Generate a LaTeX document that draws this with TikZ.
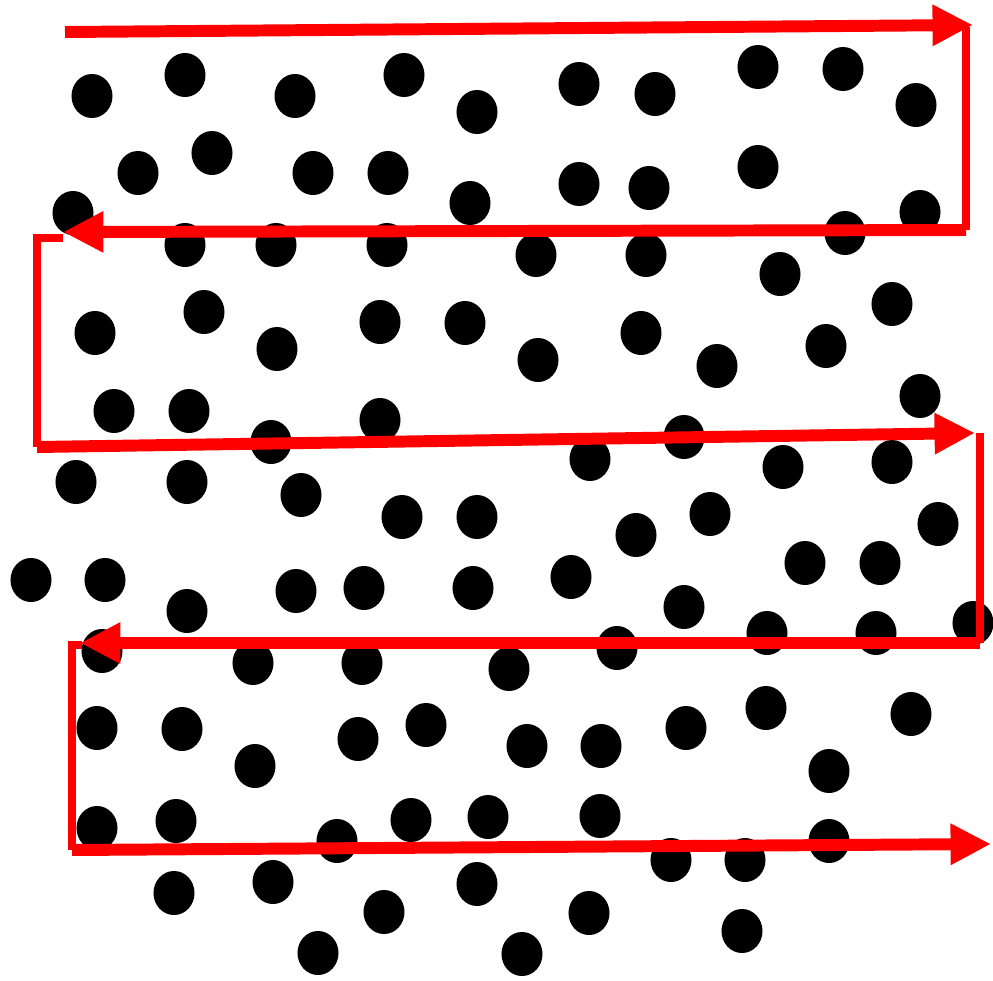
\documentclass[tikz,border=0pt]{standalone}
\usepackage{tikz}
\usetikzlibrary{arrows.meta}

\begin{document}
\begin{tikzpicture}[x=0.01cm, y=-0.01cm,
    dot/.style={fill=black},
    sweep/.style={draw=red, line width=3.4pt, line cap=butt},
    turn/.style={draw=red, line width=2.1pt, line join=miter},
    tip/.style={-{Triangle[length=11.5pt,width=11pt]}}]

  \useasboundingbox (0,0) rectangle (993,981);

  % 1. Scattered particles (pixel positions of the original sketch)
  \foreach \px/\py in {
      92/96, 185/75, 295/96, 404/75, 477/112, 579/84, 655/94, 758/67, 843/69, 916/105,
      138/173, 212/153, 313/173, 388/173, 470/203, 579/184, 649/188, 758/167, 920/212,
      73/213, 845/233, 185/245, 276/245, 387/245, 536/255, 646/255, 780/274, 892/304,
      95/333, 204/312, 277/349, 380/322, 465/323, 538/360, 641/333, 717/366, 826/346, 920/396,
      114/411, 189/411, 271/442, 380/420, 684/437, 590/459, 783/467, 892/462,
      76/482, 187/482, 301/495, 402/517, 477/517, 636/535, 710/514, 938/524,
      31/580, 105/580, 187/611, 296/591, 364/588, 473/588, 571/577, 684/607, 805/563, 880/563,
      617/648, 767/633, 876/633, 973/623, 102/651, 253/663, 362/663, 509/669,
      97/728, 182/729, 255/766, 358/739, 426/725, 527/746, 601/746, 686/728, 766/708, 911/714, 829/771,
      97/828, 176/821, 337/841, 411/820, 488/817, 600/816, 829/841, 671/860, 745/860,
      174/893, 273/882, 384/912, 477/884, 589/913, 742/931, 318/953, 522/954} {
    \fill[dot] (\px,\py) ellipse [x radius=0.205cm, y radius=0.22cm];
  }

  % 2. Corners of the scan path
  \coordinate (s1) at (65,32);   \coordinate (e1) at (973,25);
  \coordinate (r1) at (966,27);  \coordinate (s2) at (966,230);  \coordinate (e2) at (63,232);
  \coordinate (l1) at (63,238);  \coordinate (l1b) at (37,238);  \coordinate (s3) at (37,447);
  \coordinate (e3) at (975,433);
  \coordinate (r2) at (980,433); \coordinate (s4) at (980,643);  \coordinate (e4) at (80,643);
  \coordinate (l2) at (82,645);  \coordinate (l2b) at (72,645);  \coordinate (s5) at (72,850);
  \coordinate (e5) at (991,844);

  % 3. Back-and-forth sweeps
  \draw[sweep, tip] (s1) -- (e1);
  \draw[turn] (r1) -- (s2);
  \draw[sweep, tip] (s2) -- (e2);
  \draw[turn] (l1) -- (l1b) -- (s3);
  \draw[sweep, tip] (s3) -- (e3);
  \draw[turn] (r2) -- (s4);
  \draw[sweep, tip] (s4) -- (e4);
  \draw[turn] (l2) -- (l2b) -- (s5);
  \draw[sweep, tip] (s5) -- (e5);

\end{tikzpicture}
\end{document}
